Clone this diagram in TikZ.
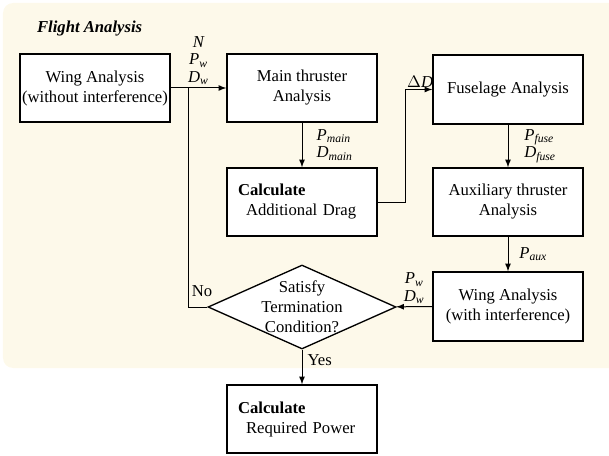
\documentclass[tikz,border=0pt]{standalone}
\usepackage{fontspec}
\setmainfont{Liberation Serif}
\usetikzlibrary{arrows,shapes.geometric,positioning}
\definecolor{bgcream}{HTML}{FDF9EA}
\newcommand{\flowvar}[2]{\textit{#1}\textsubscript{\textit{#2}}}

\begin{document}
\begin{tikzpicture}[
		x=0.6pt, y=-0.6pt,
		line width=0.6pt,
		> = latex,
		every node/.style = {font=\fontsize{10}{12}\selectfont},
		block/.style = {draw, fill=white, line width=0.8pt, minimum width=90pt, minimum height=40.8pt, align=center, inner sep=0pt},
		calcblock/.style = {block, align=left, inner xsep=6.6pt, text width=76.8pt},
		decision/.style = {diamond, draw, fill=white, line width=0.8pt, minimum width=112.8pt, minimum height=50.4pt, inner sep=0pt},
		varlabel/.style = {font=\fontsize{10}{10.5}\selectfont\itshape, align=center, inner sep=1.5pt}
		]

	\useasboundingbox (0,0) rectangle (609,456);
	\fill[bgcream, rounded corners=6pt] (3,3) rectangle (640,368);

	\node[font=\fontsize{10}{12}\selectfont\bfseries\itshape, anchor=west] (title) at (31,29) {Flight Analysis};

	\node[block] (wingA) at (95,88) {Wing Analysis\\(without interference)};
	\node[block] (mainT) at (302,88) {Main thruster\\Analysis};
	\node[block, minimum height=41.4pt] (fuse) at (508,89.5) {Fuselage Analysis};
	\node[calcblock] (addDrag) at (302,202) {\textbf{Calculate}\\\hspace{4.8pt}Additional Drag};
	\node[block] (auxT) at (508,202) {Auxiliary thruster\\Analysis};
	\node[block, minimum height=41.4pt] (wingB) at (508,306.5) {Wing Analysis\\(with interference)};
	\node[decision] (cond) at (302,307) {};
	\node[align=center] (condtext) at (cond) {Satisfy\\Termination\\Condition?};
	\node[calcblock] (reqPower) at (302,419) {\textbf{Calculate}\\\hspace{4.8pt}Required Power};

	\coordinate (nojoin) at (188,88);
	\coordinate (dragturn) at (405,202);

	\draw[->] (wingA) -- (mainT) node[midway, above, varlabel] {N\\\flowvar{P}{w}\\\flowvar{D}{w}};
	\draw (cond.west) -- (cond.west -| nojoin) node[above right, inner sep=2pt, yshift=4pt] {No} -- (nojoin);
	\draw[->] (mainT) -- (addDrag) node[midway, right=7pt, varlabel, align=left] {\flowvar{P}{main}\\\flowvar{D}{main}};
	\draw[->] (addDrag.east) -- (dragturn) |- (fuse.west) node[pos=0.5, above right, inner sep=1pt] {$\Delta$\textit{D}};
	\draw[->] (fuse) -- (auxT) node[midway, right=8pt, varlabel, align=left] {\flowvar{P}{fuse}\\\flowvar{D}{fuse}};
	\draw[->] (auxT) -- (wingB) node[midway, right=5pt, varlabel, align=left] {\flowvar{P}{aux}};
	\draw[->] (wingB) -- (cond) node[midway, above, varlabel] {\flowvar{P}{w}\\\flowvar{D}{w}};
	\draw[->] (cond) -- (reqPower) node[pos=0.3, right, inner sep=3pt] {Yes};
\end{tikzpicture}
\end{document}
